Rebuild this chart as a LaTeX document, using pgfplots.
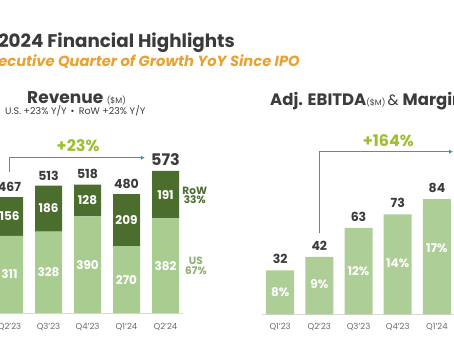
\documentclass[border=0pt]{standalone}
\usepackage{pgfplots}
\pgfplotsset{compat=1.18}
\usepackage{fontspec}
\setmainfont{Poppins}
\usetikzlibrary{arrows.meta}
\definecolor{rowgreen}{HTML}{4B6E2E}
\definecolor{usgreen}{HTML}{A9CC91}
\definecolor{ebgreen}{HTML}{ADCF97}
\definecolor{darktext}{HTML}{3B3B3B}
\definecolor{tickgray}{HTML}{6A6A6A}
\definecolor{arrowteal}{HTML}{3E9AA6}
\definecolor{yg}{HTML}{9DBF2E}
\definecolor{orangetxt}{HTML}{E9A133}
\definecolor{uslbl}{HTML}{8DB071}
\definecolor{axisgray}{HTML}{D9D9D9}
\newcommand{\fs}[1]{\fontsize{#1}{#1}\selectfont}
\tikzset{inl/.style={text=white, font=\fs{12}\bfseries},
  tot/.style={anchor=south, text=darktext, font=\fs{12.5}\bfseries, yshift=2pt}}
\pgfplotsset{revgeom/.style={at={(-10pt,28pt)}, anchor=south west, scale only axis,
  width=193.05pt, height=148.8pt, xmin=-0.5, xmax=4.45, ymin=0, ymax=600, clip=false}}
\begin{document}
\begin{tikzpicture}[x=1pt,y=1pt]
\useasboundingbox (0,0) rectangle (454,341);
\clip (0,0) rectangle (454,341);
% titles
\node[anchor=base east, inner sep=0, text=darktext, font=\fs{18.3}\bfseries] at (235,294) {Q2 2024 Financial Highlights};
\node[anchor=base east, inner sep=0, text=orangetxt, font=\fs{14.7}\bfseries\itshape] at (300,275) {5th Consecutive Quarter of Growth YoY Since IPO};
\node[anchor=base west, inner sep=0, text=darktext] at (27,238) {\fs{17}\bfseries Revenue \fs{8}\mdseries(\$M)};
\node[anchor=base west, inner sep=0, text=darktext, font=\fs{9.5}] at (5,226.5) {U.S. +23\% Y/Y \,\textbullet\, RoW +23\% Y/Y};
\node[anchor=base west, inner sep=0, text=darktext] at (270,236) {\fs{16.5}\bfseries Adj. EBITDA\fs{8}\mdseries(\$M) \fs{15}\mdseries\&\ \fs{16.5}\bfseries Margin};

% Revenue
\begin{axis}[revgeom, axis x line=bottom, axis y line=none,
  x axis line style={draw=axisgray, line width=0.8pt, -},
  ytick=\empty, xtick={0,1,2,3,4},
  xticklabels={Q2'23,Q3'23,Q4'23,Q1'24,Q2'24},
  major tick length=0pt,
  xticklabel style={font=\fs{8.5}, text=tickgray, anchor=center, yshift=-14pt},
  ybar stacked, bar width=27pt]
\addplot[fill=usgreen, draw=none] coordinates {(0,311)(1,328)(2,390)(3,270)(4,382)};
\addplot[fill=rowgreen, draw=none] coordinates {(0,156)(1,186)(2,128)(3,209)(4,191)};
\end{axis}
% Revenue labels (overlay axis with identical geometry)
\begin{axis}[revgeom, axis lines=none]
\node[inl] at (axis cs:0,155.5) {311};
\node[inl] at (axis cs:1,164) {328};
\node[inl] at (axis cs:2,195) {390};
\node[inl] at (axis cs:3,135) {270};
\node[inl] at (axis cs:4,191) {382};
\node[inl] at (axis cs:0,389) {156};
\node[inl] at (axis cs:1,421) {186};
\node[inl] at (axis cs:2,454) {128};
\node[inl] at (axis cs:3,374.5) {209};
\node[inl] at (axis cs:4,477.5) {191};
\node[tot] at (axis cs:0,467) {467};
\node[tot] at (axis cs:1,513) {513};
\node[tot] at (axis cs:2,518) {518};
\node[tot] at (axis cs:3,480) {480};
\node[anchor=south, text=darktext, font=\fs{16}\bfseries, yshift=2pt] at (axis cs:4,573) {573};
\node[anchor=west, align=center, text=rowgreen, font=\fs{10.5}\bfseries, inner sep=0] at (axis cs:4.43,475) {RoW\\[-1pt]33\%};
\node[anchor=west, align=center, text=uslbl, font=\fs{10.5}\bfseries, inner sep=0] at (axis cs:4.5,190) {US\\[-1pt]67\%};
\draw[arrowteal, line width=1.1pt, -{Latex[length=4pt,width=4.5pt]}] (axis cs:0,570) |- (axis cs:3.47,626);
\node[text=yg, font=\fs{16}\bfseries] at (axis cs:1.76,677) {+23\%};
\end{axis}

% EBITDA
\begin{axis}[at={(261.7pt,26.7pt)}, anchor=south west, scale only axis,
  width=210.5pt, height=164.4pt, xmin=-0.47, xmax=4.9, ymin=0, ymax=120,
  clip=false, axis x line=bottom, axis y line=none,
  x axis line style={draw=axisgray, line width=0.8pt, -},
  ytick=\empty, xtick={0,1,2,3,4},
  xticklabels={Q1'23,Q2'23,Q3'23,Q4'23,Q1'24},
  major tick length=0pt,
  xticklabel style={font=\fs{8.5}, text=tickgray, anchor=center, yshift=-12.5pt},
  ybar, bar width=28pt]
\addplot[fill=ebgreen, draw=none] coordinates {(0,32)(1,42)(2,63)(3,73)(4,84)};
\node[tot, yshift=1pt] at (axis cs:0,32) {32};
\node[tot, yshift=1pt] at (axis cs:1,42) {42};
\node[tot, yshift=1pt] at (axis cs:2,63) {63};
\node[tot, yshift=1pt] at (axis cs:3,73) {73};
\node[tot, yshift=1pt] at (axis cs:4,84) {84};
\node[inl] at (axis cs:0,16) {8\%};
\node[inl] at (axis cs:1,22) {9\%};
\node[inl] at (axis cs:2,31.5) {12\%};
\node[inl] at (axis cs:3,37) {14\%};
\node[inl] at (axis cs:4,48.4) {17\%};
\draw[arrowteal, line width=1.1pt, -{Latex[length=4pt,width=4.5pt]}] (axis cs:1,59) |- (axis cs:4.41,118.7);
\node[text=yg, font=\fs{16}\bfseries] at (axis cs:2.76,126.5) {+164\%};
\end{axis}
\end{tikzpicture}
\end{document}
